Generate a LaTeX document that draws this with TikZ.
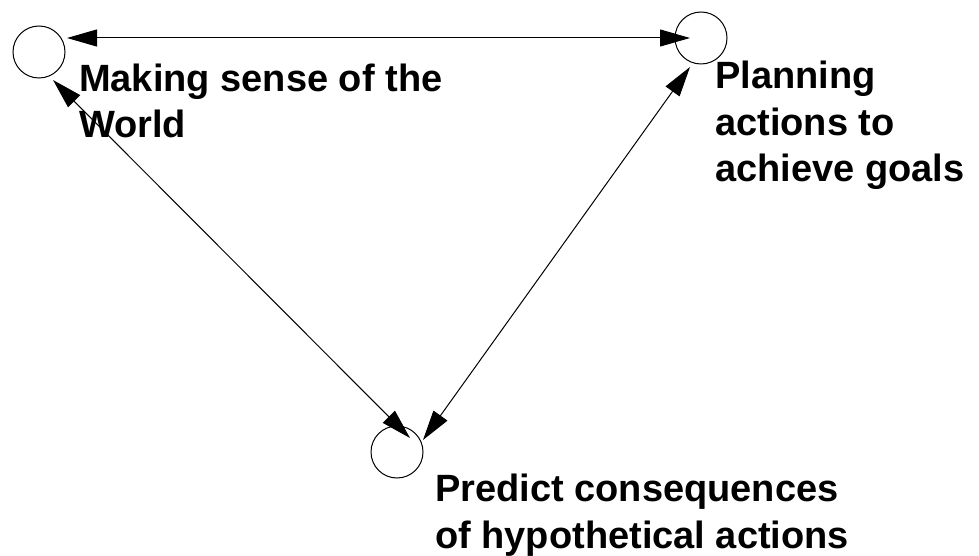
\documentclass[tikz,border=0pt]{standalone}
\usepackage{fontspec}
\setmainfont{Liberation Sans}
\usetikzlibrary{arrows.meta}
\tikzset{
  spot/.style={draw, circle, line width=1pt, minimum size=52pt, inner sep=0pt},
  lbl/.style={anchor=base west, align=left, inner sep=0pt,
    font=\fontsize{38}{46.5}\selectfont\bfseries},
}
\begin{document}
\begin{tikzpicture}[x=1pt,y=1pt,line cap=round,>={Triangle[length=30pt,width=17pt]}]
  \useasboundingbox (0,0) rectangle (979,555);
  \node[spot] (world) at (39,503) {};
  \node[spot] (plan) at (701,517) {};
  \node[spot] (predict) at (397,103) {};
  \draw[line width=1pt, <->] ([shift={(28,14)}]world.center) -- ([shift={(-11,0)}]plan.center);
  \draw[line width=1pt, <->] ([shift={(14,-28)}]world.center) -- ([shift={(13,14)}]predict.center);
  \draw[line width=1pt, <->] ([shift={(26,12)}]predict.center) -- ([shift={(-11,-29)}]plan.center);
  % base anchor sits on the last line
  \node[lbl] (worldtext) at (79,417) {Making sense of the\\World};
  \node[lbl] (plantext) at (715,373) {Planning\\actions to\\achieve goals};
  \node[lbl] (predicttext) at (435,7) {Predict consequences\\of hypothetical actions};
\end{tikzpicture}
\end{document}
